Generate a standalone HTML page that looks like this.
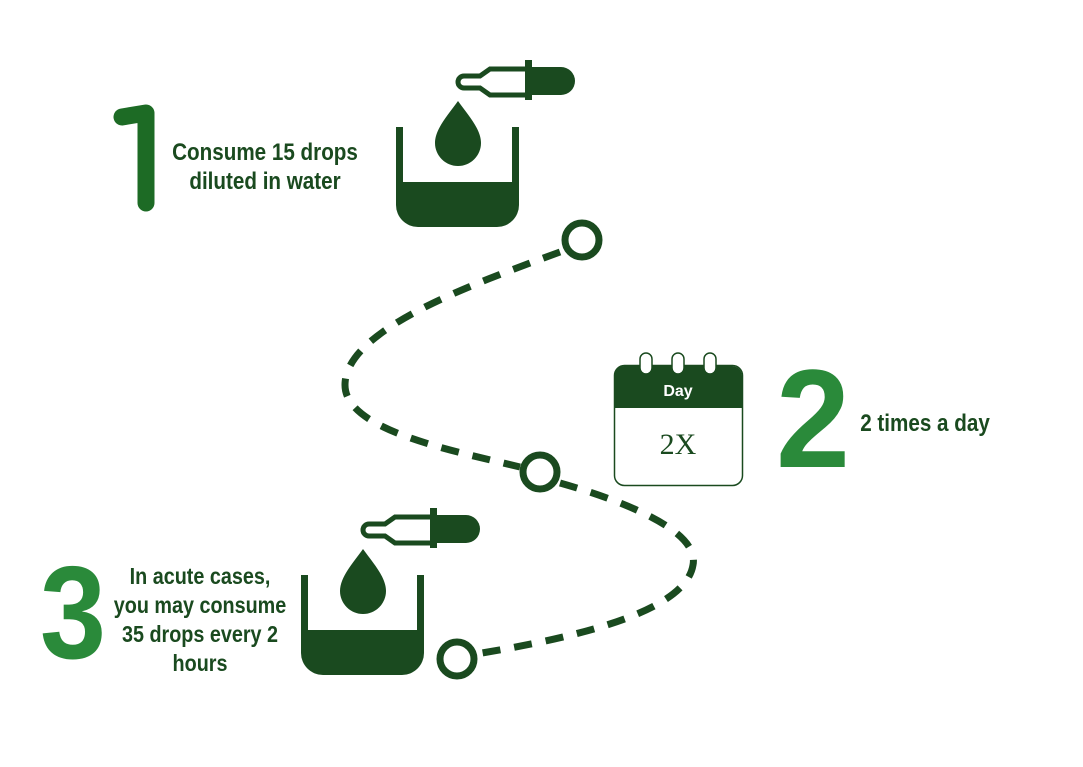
<!DOCTYPE html>
<html><head><style>
body{margin:0;background:#fff;}
svg{display:block;}
</style></head><body>
<svg width="1083" height="767" viewBox="0 0 1083 767" xmlns="http://www.w3.org/2000/svg">
<g font-family="Liberation Sans, sans-serif">
<!-- 1 -->
<path d="M122 117 L146 113 L146 203" stroke="#1d6b25" stroke-width="17" stroke-linecap="round" stroke-linejoin="round" fill="none"/>
<g font-size="24" font-weight="bold" fill="#1a4a1f" text-anchor="middle">
<text transform="translate(265 160) scale(0.86 1)">Consume 15 drops</text>
<text transform="translate(265 189) scale(0.86 1)">diluted in water</text>
</g>

<defs>
<g id="ic">
<path d="M0 0 h7 v55 h109 v-55 h7 v78 a22 22 0 0 1 -22 22 h-79 a22 22 0 0 1 -22 -22 z" fill="#1a4a1f"/>
<path d="M62 -26 C52 -12 39 2 39 16 A23 23 0 0 0 85 16 C85 2 72 -12 62 -26 z" fill="#1a4a1f"/>
<path d="M135 -60 h30 a14 14 0 0 1 0 28 h-30 z" fill="#1a4a1f"/>
<rect x="129" y="-67" width="7" height="40" fill="#1a4a1f"/>
<path d="M129 -58 h-35 l-10 7 h-16 a6 6 0 0 0 0 12 h16 l10 7 h35" fill="none" stroke="#1a4a1f" stroke-width="5"/>
</g>
</defs>
<use href="#ic" x="396" y="127"/>
<use href="#ic" x="301" y="575"/>

<g fill="none" stroke="#1a4a1f" stroke-width="7">
<path d="M560 252 C470 285 345 330 345 385 C345 430 450 450 520 467" stroke-dasharray="18 14"/>
<path d="M560 483 C620 500 700 530 693 565 C685 615 560 640 476 654" stroke-dasharray="18 14"/>
<circle cx="582" cy="240" r="17"/>
<circle cx="540" cy="472" r="17"/>
<circle cx="457" cy="659" r="17"/>
</g>

<rect x="614.5" y="365.5" width="128" height="120" rx="10" fill="#fff" stroke="#1a4a1f" stroke-width="1.5"/>
<path d="M614 408 v-32 a10 10 0 0 1 10 -10 h108 a10 10 0 0 1 10 10 v32 z" fill="#1a4a1f"/>
<g fill="#fff" stroke="#1a4a1f" stroke-width="1.5">
<rect x="640" y="353" width="12" height="21" rx="6"/>
<rect x="672" y="353" width="12" height="21" rx="6"/>
<rect x="704" y="353" width="12" height="21" rx="6"/>
</g>
<text x="678" y="396" text-anchor="middle" font-size="16" font-weight="bold" fill="#fff">Day</text>
<text x="678" y="454" text-anchor="middle" font-family="Liberation Serif, serif" font-size="30" fill="#1a4a1f">2X</text>

<text transform="translate(813 467) scale(0.95 1)" text-anchor="middle" font-size="140" font-weight="bold" fill="#2a8a3a">2</text>
<text transform="translate(925 431) scale(0.86 1)" text-anchor="middle" font-size="24" font-weight="bold" fill="#1a4a1f">2 times a day</text>

<text transform="translate(73 658) scale(0.9 1)" text-anchor="middle" font-size="132" font-weight="bold" fill="#2a8a3a">3</text>
<g font-size="23" font-weight="bold" fill="#1a4a1f" text-anchor="middle">
<text transform="translate(200 584) scale(0.86 1)">In acute cases,</text>
<text transform="translate(200 613) scale(0.86 1)">you may consume</text>
<text transform="translate(200 642) scale(0.86 1)">35 drops every 2</text>
<text transform="translate(200 671) scale(0.86 1)">hours</text>
</g>
</g>
</svg>
</body></html>
